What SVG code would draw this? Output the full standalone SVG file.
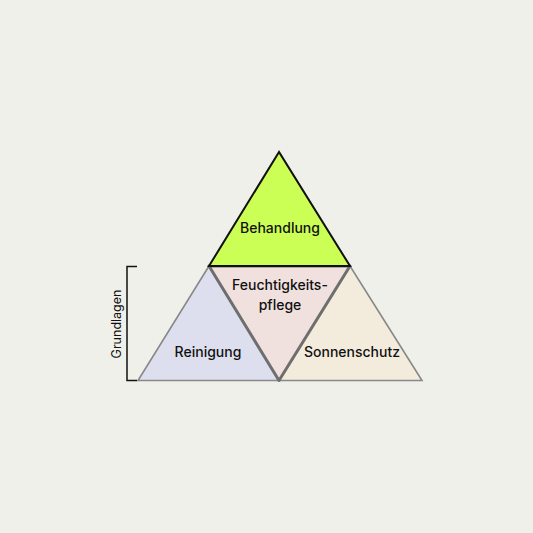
<svg xmlns="http://www.w3.org/2000/svg" width="533" height="533" viewBox="0 0 533 533">
<style>
text{font-family:Inter,"Liberation Sans",sans-serif;font-size:14px;font-weight:500;fill:#111;text-anchor:middle;dominant-baseline:central}
.side{stroke:#888;stroke-width:1.6;stroke-linejoin:miter}
</style>
<rect width="533" height="533" fill="#f0f0ea"/>
<g id="reinigung">
<polygon class="side" points="209,266 138,380.5 279,380.5" fill="#dddfee"/>
<text x="208" y="351">Reinigung</text>
</g>
<g id="sonnenschutz">
<polygon class="side" points="350,266 279,380.5 422,380.5" fill="#f3ecdc"/>
<text x="352" y="351">Sonnenschutz</text>
</g>
<g id="feuchtigkeitspflege">
<polygon points="209,266 350,266 279,380.5" fill="#f0e0de" stroke="#6e6e6e" stroke-width="3" stroke-linejoin="round"/>
<text x="280" y="284">Feuchtigkeits-</text>
<text x="280" y="304">pflege</text>
</g>
<g id="behandlung">
<polygon points="279,152 209,266 350,266" fill="#ccff55" stroke="#111" stroke-width="2"/>
<text x="280" y="227">Behandlung</text>
</g>
<g id="grundlagen">
<path d="M137,266.5 H127 V380.5 H137" fill="none" stroke="#111" stroke-width="1.5"/>
<text transform="translate(116,324) rotate(-90)" style="font-size:12.5px;font-weight:400">Grundlagen</text>
</g>
</svg>
